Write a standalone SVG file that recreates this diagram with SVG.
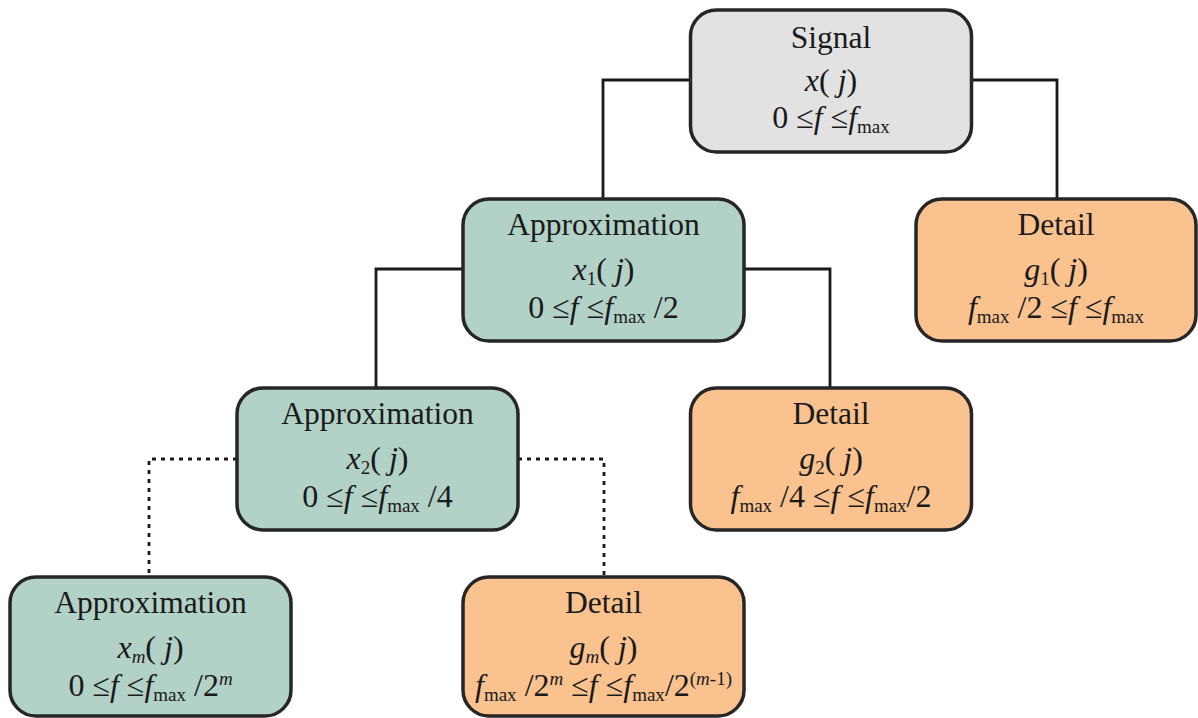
<svg xmlns="http://www.w3.org/2000/svg" width="1198" height="718" viewBox="0 0 1198 718">
<style>
.box{stroke:#262626;stroke-width:3.5}
.sig{fill:#e2e2e2}
.app{fill:#b2d1c7}
.det{fill:#f9c28e}
text{font-family:"Liberation Serif","Times New Roman",serif;font-size:31.5px;fill:#1a1a1a;text-anchor:middle}
.m{font-size:32px}
.i{font-style:italic}
.s{font-size:19px}
.con{fill:none;stroke:#1a1a1a;stroke-width:2.8}
.dot{stroke-dasharray:4 5}
</style>
<rect width="1198" height="718" fill="#ffffff"/>
<g id="connectors">
<path class="con" d="M690,80 H603 V199"/>
<path class="con" d="M971,80 H1057 V199"/>
<path class="con" d="M463,269 H376 V388"/>
<path class="con" d="M744,269 H830 V388"/>
<path class="con dot" d="M237,459 H149 V577"/>
<path class="con dot" d="M518,459 H604 V577"/>
</g>
<g id="signal">
<rect class="box sig" x="690.5" y="10" width="281" height="142" rx="26"/>
<text x="831" y="48">Signal</text>
<text class="m" x="831" y="91"><tspan class="i">x</tspan>( <tspan class="i">j</tspan>)</text>
<text class="m" x="831" y="128">0 ≤<tspan class="i">f</tspan> ≤<tspan class="i">f</tspan><tspan class="s" dy="5">max</tspan></text>
</g>
<g id="approx1">
<rect class="box app" x="463" y="199" width="281" height="142" rx="26"/>
<text x="603.5" y="235">Approximation</text>
<text class="m" x="603.5" y="280"><tspan class="i">x</tspan><tspan class="s" dy="5">1</tspan><tspan dy="-5">( </tspan><tspan class="i">j</tspan>)</text>
<text class="m" x="603.5" y="318">0 ≤<tspan class="i">f</tspan> ≤<tspan class="i">f</tspan><tspan class="s" dy="5">max</tspan><tspan dy="-5"> /2</tspan></text>
</g>
<g id="detail1">
<rect class="box det" x="916" y="199" width="280" height="142" rx="26"/>
<text x="1056" y="235">Detail</text>
<text class="m" x="1056" y="280"><tspan class="i">g</tspan><tspan class="s" dy="5">1</tspan><tspan dy="-5">( </tspan><tspan class="i">j</tspan>)</text>
<text class="m" x="1056" y="318"><tspan class="i">f</tspan><tspan class="s" dy="5">max</tspan><tspan dy="-5"> /2 ≤</tspan><tspan class="i">f</tspan> ≤<tspan class="i">f</tspan><tspan class="s" dy="5">max</tspan></text>
</g>
<g id="approx2">
<rect class="box app" x="237" y="388" width="281" height="142" rx="26"/>
<text x="377.5" y="424">Approximation</text>
<text class="m" x="377.5" y="469"><tspan class="i">x</tspan><tspan class="s" dy="5">2</tspan><tspan dy="-5">( </tspan><tspan class="i">j</tspan>)</text>
<text class="m" x="377.5" y="507">0 ≤<tspan class="i">f</tspan> ≤<tspan class="i">f</tspan><tspan class="s" dy="5">max</tspan><tspan dy="-5"> /4</tspan></text>
</g>
<g id="detail2">
<rect class="box det" x="690.5" y="388" width="281" height="142" rx="26"/>
<text x="831" y="424">Detail</text>
<text class="m" x="831" y="469"><tspan class="i">g</tspan><tspan class="s" dy="5">2</tspan><tspan dy="-5">( </tspan><tspan class="i">j</tspan>)</text>
<text class="m" x="831" y="507"><tspan class="i">f</tspan><tspan class="s" dy="5">max</tspan><tspan dy="-5"> /4 ≤</tspan><tspan class="i">f</tspan> ≤<tspan class="i">f</tspan><tspan class="s" dy="5">max</tspan><tspan dy="-5">/2</tspan></text>
</g>
<g id="approxm">
<rect class="box app" x="10" y="577" width="281" height="139" rx="26"/>
<text x="150.5" y="613">Approximation</text>
<text class="m" x="150.5" y="658"><tspan class="i">x</tspan><tspan class="s i" dy="5">m</tspan><tspan dy="-5">( </tspan><tspan class="i">j</tspan>)</text>
<text class="m" x="150.5" y="696">0 ≤<tspan class="i">f</tspan> ≤<tspan class="i">f</tspan><tspan class="s" dy="5">max</tspan><tspan dy="-5"> /2</tspan><tspan class="s i" dy="-11">m</tspan></text>
</g>
<g id="detailm">
<rect class="box det" x="463" y="577" width="281" height="139" rx="26"/>
<text x="603.5" y="613">Detail</text>
<text class="m" x="603.5" y="658"><tspan class="i">g</tspan><tspan class="s i" dy="5">m</tspan><tspan dy="-5">( </tspan><tspan class="i">j</tspan>)</text>
<text class="m" x="603.5" y="696"><tspan class="i">f</tspan><tspan class="s" dy="5">max</tspan><tspan dy="-5"> /2</tspan><tspan class="s i" dy="-11">m</tspan><tspan dy="11"> ≤</tspan><tspan class="i">f</tspan> ≤<tspan class="i">f</tspan><tspan class="s" dy="5">max</tspan><tspan dy="-5">/2</tspan><tspan class="s" dy="-11">(</tspan><tspan class="s i">m</tspan><tspan class="s">-1)</tspan></text>
</g>
</svg>
